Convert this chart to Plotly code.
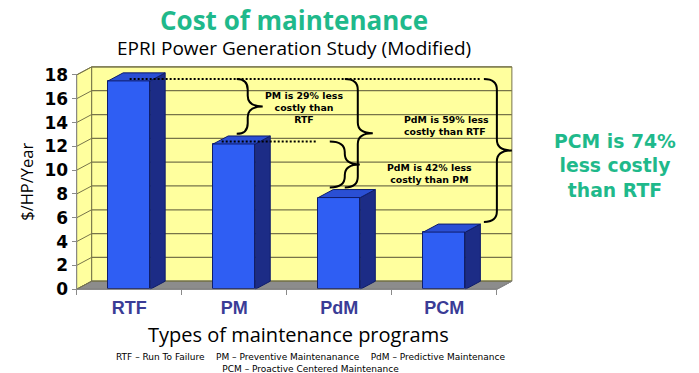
import plotly.graph_objects as go

# ---------------- data ----------------
categories = ["RTF", "PM", "PdM", "PCM"]
cost_per_hp_year = [17.5, 12.2, 7.7, 4.8]
y_tick_values = [0, 2, 4, 6, 8, 10, 12, 14, 16, 18]
brace_texts = [
    "PM is 29% less<br>costly than<br>RTF",
    "PdM is 59% less<br>costly than RTF",
    "PdM is 42% less<br>costly than PM",
]
callout_text = "PCM is 74%<br>less costly<br>than RTF"
title_text = "Cost of maintenance"
subtitle_text = "EPRI Power Generation Study (Modified)"
y_title = "$/HP/Year"
x_title = "Types of maintenance programs"
footnote_1 = "RTF \u2013 Run To Failure    PM \u2013 Preventive Maintenanance    PdM \u2013 Predictive Maintenance"
footnote_2 = "PCM \u2013 Proactive Centered Maintenance"

# ---------------- geometry ----------------
FIG_W, FIG_H = 699, 373
UX = 105.0                   # px per category
UY = 11.88                   # px per value unit
X0_PX = 77.0                 # pixel of the front-left edge (x = -0.5)
Y0_PX = 288.8                # pixel of value 0
XR = [-0.62, 3.72]
YR = [-0.4, 18.75]
ML = X0_PX - (-0.5 - XR[0]) * UX
PW = (XR[1] - XR[0]) * UX
MR = FIG_W - ML - PW
MT = Y0_PX - YR[1] * UY
PH = (YR[1] - YR[0]) * UY
MB = FIG_H - MT - PH

DX = 15.0 / UX               # 3D depth offset (x, data units)
DY = 8.0 / UY                # 3D depth offset (y, data units)
BW = 0.2                     # half bar width
YMAX = y_tick_values[-1]
XL, XRt = -0.5, len(categories) - 0.5


def dx(p):
    """pixel x -> data x"""
    return (p - X0_PX) / UX - 0.5


def ppx(p):
    """pixel x -> paper x"""
    return (p - ML) / PW


def ppy(p):
    """pixel y -> paper y"""
    return (FIG_H - MB - p) / PH


FONT = "Open Sans"
WIDE = "DejaVu Sans"
GREEN = "#1FB98B"
WALL = "#FFFF9E"
GRID = "#77744A"
AXIS = "#8A8A8A"

fig = go.Figure()

# bar front faces
fig.add_trace(go.Bar(
    x=list(range(len(categories))), y=cost_per_hp_year, width=2 * BW,
    marker=dict(color="#2F5EF3", line=dict(color="#0F1D6B", width=1)),
    hoverinfo="skip", showlegend=False,
))

# bar side and top faces
for i, v in enumerate(cost_per_hp_year):
    fig.add_trace(go.Scatter(
        x=[i + BW, i + BW + DX, i + BW + DX, i + BW, i + BW],
        y=[0, DY, v + DY, v, 0],
        fill="toself", fillcolor="#1C2C86", mode="lines",
        line=dict(color="#0F1D6B", width=1), hoverinfo="skip", showlegend=False,
    ))
    fig.add_trace(go.Scatter(
        x=[i - BW, i + BW, i + BW + DX, i - BW + DX, i - BW],
        y=[v, v, v + DY, v + DY, v],
        fill="toself", fillcolor="#2A4FD4", mode="lines",
        line=dict(color="#0F1D6B", width=1), hoverinfo="skip", showlegend=False,
    ))

# dotted reference lines
rtf, pm, pdm, pcm = cost_per_hp_year
LV = 0.15
fig.add_trace(go.Scatter(x=[dx(130), dx(480)], y=[rtf + LV, rtf + LV], mode="lines",
                         line=dict(color="black", width=2, dash="2px,2px"),
                         hoverinfo="skip", showlegend=False))
fig.add_trace(go.Scatter(x=[dx(222), dx(317)], y=[pm + LV + 0.05, pm + LV + 0.05], mode="lines",
                         line=dict(color="black", width=2, dash="2px,2px"),
                         hoverinfo="skip", showlegend=False))

shapes = []
# back wall
shapes.append(dict(type="rect", xref="x", yref="y", x0=XL + DX, x1=XRt + DX, y0=DY, y1=YMAX + DY,
                   fillcolor=WALL, line=dict(color=GRID, width=1), layer="below"))
# left wall
shapes.append(dict(type="path", xref="x", yref="y",
                   path=f"M{XL},0 L{XL + DX},{DY} L{XL + DX},{YMAX + DY} L{XL},{YMAX} Z",
                   fillcolor=WALL, line=dict(color=GRID, width=1), layer="below"))
# floor
shapes.append(dict(type="path", xref="x", yref="y",
                   path=f"M{XL},0 L{XRt},0 L{XRt + DX},{DY} L{XL + DX},{DY} Z",
                   fillcolor="#8C8C8C", line=dict(color="#6E6E6E", width=1), layer="below"))
# grid lines on walls
for v in y_tick_values:
    shapes.append(dict(type="line", xref="x", yref="y", x0=XL + DX, x1=XRt + DX, y0=v + DY, y1=v + DY,
                       line=dict(color=GRID, width=1.2), layer="below"))
    shapes.append(dict(type="line", xref="x", yref="y", x0=XL, x1=XL + DX, y0=v, y1=v + DY,
                       line=dict(color=GRID, width=1), layer="below"))
# front axis lines
shapes.append(dict(type="line", xref="x", yref="y", x0=XL, x1=XL, y0=0, y1=YMAX,
                   line=dict(color=AXIS, width=1)))
shapes.append(dict(type="line", xref="x", yref="y", x0=XL, x1=XRt, y0=0, y1=0,
                   line=dict(color=AXIS, width=1)))
shapes.append(dict(type="line", xref="x", yref="y", x0=XRt, x1=XRt + DX, y0=0, y1=DY,
                   line=dict(color=AXIS, width=1)))


def brace(x0, x1, x2, ytop, ybot, ry=0.9):
    ym = (ytop + ybot) / 2
    return (f"M{x0},{ytop} Q{x1},{ytop} {x1},{ytop - ry} L{x1},{ym + ry} "
            f"Q{x1},{ym} {x2},{ym} Q{x1},{ym} {x1},{ym - ry} L{x1},{ybot + ry} "
            f"Q{x1},{ybot} {x0},{ybot}")


BOT = 0.85
brace_specs = [
    (dx(237), dx(248), dx(263), rtf + LV, pm + BOT),
    (dx(345), dx(358), dx(373), rtf + LV, pdm + BOT),
    (dx(330), dx(345), dx(360), pm + LV + 0.05, pdm + BOT),
    (dx(484), dx(497), dx(512), rtf + LV, pcm + BOT),
]
for spec in brace_specs:
    shapes.append(dict(type="path", xref="x", yref="y", path=brace(*spec),
                       line=dict(color="black", width=2), layer="above"))


def ann(text, x, y, size, color="black", xref="paper", yref="paper", family=FONT, **kw):
    d = dict(text=text, x=x, y=y, xref=xref, yref=yref, showarrow=False,
             xanchor="center", yanchor="middle",
             font=dict(family=family, size=size, color=color))
    d.update(kw)
    return d


annotations = [
    ann(f"<b>{title_text}</b>", ppx(294), ppy(20), 26, GREEN),
    ann(subtitle_text, ppx(294), ppy(48), 19),
    ann(y_title, ppx(27), ppy(182), 16.5, textangle=-90),
    ann(x_title, ppx(299), ppy(334), 20),
    ann(f"{footnote_1}<br>{footnote_2}", ppx(311), ppy(362), 9, family=WIDE),
    ann(f"<b>{callout_text}</b>", ppx(615), ppy(165.5), 18.8, GREEN, family=WIDE),
    ann(f"<b>{brace_texts[0]}</b>", dx(304), 15.3, 9.4, xref="x", yref="y", family=WIDE),
    ann(f"<b>{brace_texts[1]}</b>", dx(402), 13.75, 9.4, xref="x", yref="y", family=WIDE,
        xanchor="left", align="left"),
    ann(f"<b>{brace_texts[2]}</b>", dx(430), 9.7, 9.4, xref="x", yref="y", family=WIDE),
]

fig.update_layout(
    width=FIG_W, height=FIG_H,
    margin=dict(l=ML, r=MR, t=MT, b=MB, pad=0),
    paper_bgcolor="white", plot_bgcolor="white",
    shapes=shapes, annotations=annotations,
    showlegend=False, bargap=0,
    xaxis=dict(range=XR, showgrid=False, zeroline=False, showline=False,
               anchor="free", position=ppy(Y0_PX),
               tickmode="array", tickvals=list(range(len(categories))), ticktext=categories,
               ticks="", ticklabelstandoff=6,
               tickfont=dict(family="Liberation Sans", size=18, color="#3A3C96", weight="bold"),
               minor=dict(tickmode="array", tickvals=[i - 0.5 for i in range(len(categories) + 1)],
                          ticks="outside", ticklen=5, tickcolor=AXIS, showgrid=False),
               fixedrange=True),
    yaxis=dict(range=YR, showgrid=False, zeroline=False, showline=False,
               anchor="free", position=ppx(X0_PX),
               tickmode="array", tickvals=y_tick_values,
               ticks="outside", ticklen=5, tickcolor=AXIS,
               tickfont=dict(family=WIDE, size=17, color="black", weight="bold"),
               fixedrange=True),
)

fig.write_html("out.html", config={"displayModeBar": False},
               post_script="document.body.style.margin='0px';")
